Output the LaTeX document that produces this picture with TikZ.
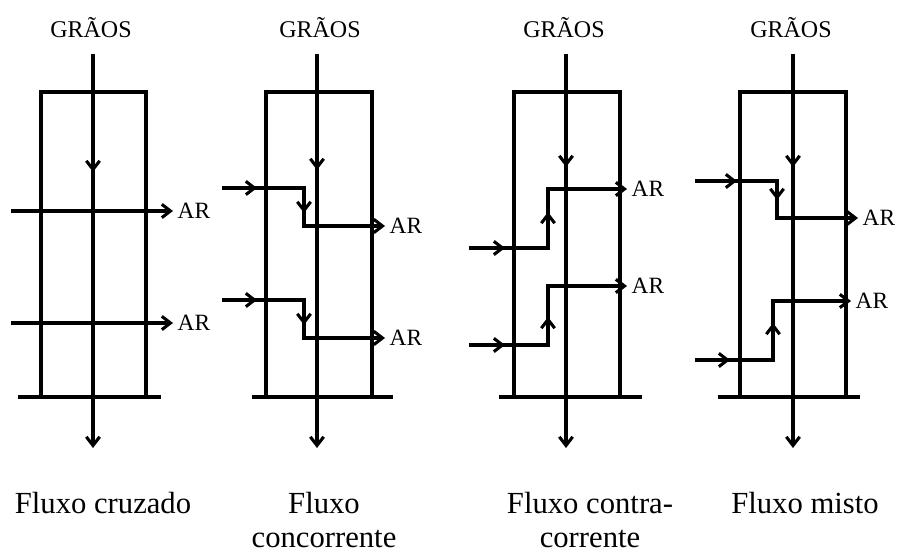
\documentclass[tikz,border=0pt]{standalone}
\usepackage{fontspec}
\setmainfont{Liberation Serif}
\usetikzlibrary{arrows.meta,positioning}

\begin{document}
\begin{tikzpicture}[x=0.75pt, y=-0.75pt,
    flow/.style={line width=2.3pt, line join=miter, -{Straight Barb[length=6.5pt,width=10pt]}},
    wall/.style={line width=2.3pt, line join=miter},
    graos/.style={font=\fontsize{18}{20}\selectfont},
    arlabel/.style={font=\fontsize{17.5}{20}\selectfont},
    flowname/.style={font=\fontsize{23}{25.5}\selectfont, align=center, anchor=north, inner sep=0pt}]
  \useasboundingbox (0,0) rectangle (906,555);

  % fluxo cruzado
  \node[graos] (g1) at (91,28) {GRÃOS};
  \coordinate (top1) at (93,54);
  \coordinate (mid1) at (93,172);
  \coordinate (bot1) at (93,448);
  \draw[wall] (41,397) -- (41,92) -- (146,92) -- (146,397);
  \draw[wall] (18,397) -- (161,397);
  \draw[flow] (top1) -- (mid1);
  \draw[flow] (top1) -- (bot1);
  \coordinate (in11) at (11,211);
  \coordinate (out11) at (173,211);
  \coordinate (in12) at (11,323);
  \coordinate (out12) at (173,323);
  \draw[flow] (in11) -- (out11);
  \draw[flow] (in12) -- (out12);
  \node[arlabel, right=0pt of out11] (ar11) {AR};
  \node[arlabel, right=0pt of out12] (ar12) {AR};
  \node[flowname] (f1) at (103,492) {Fluxo cruzado};

  % fluxo concorrente
  \node[graos] (g2) at (320,28) {GRÃOS};
  \coordinate (top2) at (317,54);
  \coordinate (mid2) at (317,170);
  \coordinate (bot2) at (317,448);
  \draw[wall] (266,397) -- (266,92) -- (372,92) -- (372,397);
  \draw[wall] (252,397) -- (393,397);
  \draw[flow] (top2) -- (mid2);
  \draw[flow] (top2) -- (bot2);
  \coordinate (in21) at (222,188);
  \coordinate (h21) at (257,188);
  \coordinate (c21) at (304,188);
  \coordinate (v21) at (304,213);
  \coordinate (e21) at (304,226);
  \coordinate (out21) at (385,226);
  \draw[flow] (in21) -- (h21);
  \draw[flow] (in21) -- (c21) -- (v21);
  \draw[flow] (in21) -- (c21) -- (e21) -- (out21);
  \coordinate (in22) at (222,300);
  \coordinate (h22) at (257,300);
  \coordinate (c22) at (304,300);
  \coordinate (v22) at (304,325);
  \coordinate (e22) at (304,338);
  \coordinate (out22) at (385,338);
  \draw[flow] (in22) -- (h22);
  \draw[flow] (in22) -- (c22) -- (v22);
  \draw[flow] (in22) -- (c22) -- (e22) -- (out22);
  \node[arlabel, right=0pt of out21] (ar21) {AR};
  \node[arlabel, right=0pt of out22] (ar22) {AR};
  \node[flowname] (f2) at (324,492) {Fluxo\\concorrente};

  % fluxo contracorrente
  \node[graos] (g3) at (564,28) {GRÃOS};
  \coordinate (top3) at (566,54);
  \coordinate (mid3) at (566,167);
  \coordinate (bot3) at (566,448);
  \draw[wall] (514,397) -- (514,92) -- (620,92) -- (620,397);
  \draw[wall] (499,397) -- (642,397);
  \draw[flow] (top3) -- (mid3);
  \draw[flow] (top3) -- (bot3);
  \coordinate (in31) at (469,248);
  \coordinate (h31) at (505,248);
  \coordinate (c31) at (548,248);
  \coordinate (v31) at (548,212);
  \coordinate (e31) at (548,189);
  \coordinate (out31) at (627,189);
  \draw[flow] (in31) -- (h31);
  \draw[flow] (in31) -- (c31) -- (v31);
  \draw[flow] (in31) -- (c31) -- (e31) -- (out31);
  \coordinate (in32) at (469,345);
  \coordinate (h32) at (505,345);
  \coordinate (c32) at (548,345);
  \coordinate (v32) at (548,317);
  \coordinate (e32) at (548,286);
  \coordinate (out32) at (627,286);
  \draw[flow] (in32) -- (h32);
  \draw[flow] (in32) -- (c32) -- (v32);
  \draw[flow] (in32) -- (c32) -- (e32) -- (out32);
  \node[arlabel, right=0pt of out31] (ar31) {AR};
  \node[arlabel, right=0pt of out32] (ar32) {AR};
  \node[flowname] (f3) at (590,492) {Fluxo contra-\\corrente};

  % fluxo misto
  \node[graos] (g4) at (791,28) {GRÃOS};
  \coordinate (top4) at (793,54);
  \coordinate (mid4) at (793,167);
  \coordinate (bot4) at (793,448);
  \draw[wall] (740,397) -- (740,92) -- (846,92) -- (846,397);
  \draw[wall] (718,397) -- (860,397);
  \draw[flow] (top4) -- (mid4);
  \draw[flow] (top4) -- (bot4);
  \coordinate (in41) at (695,181);
  \coordinate (h41) at (737,181);
  \coordinate (c41) at (777,181);
  \coordinate (v41) at (777,200);
  \coordinate (e41) at (777,218);
  \coordinate (out41) at (858,218);
  \draw[flow] (in41) -- (h41);
  \draw[flow] (in41) -- (c41) -- (v41);
  \draw[flow] (in41) -- (c41) -- (e41) -- (out41);
  \coordinate (in42) at (695,360);
  \coordinate (h42) at (730,360);
  \coordinate (c42) at (773,360);
  \coordinate (v42) at (773,323);
  \coordinate (e42) at (773,301);
  \coordinate (out42) at (851,301);
  \draw[flow] (in42) -- (h42);
  \draw[flow] (in42) -- (c42) -- (v42);
  \draw[flow] (in42) -- (c42) -- (e42) -- (out42);
  \node[arlabel, right=0pt of out41] (ar41) {AR};
  \node[arlabel, right=0pt of out42] (ar42) {AR};
  \node[flowname] (f4) at (805,492) {Fluxo misto};
\end{tikzpicture}
\end{document}
